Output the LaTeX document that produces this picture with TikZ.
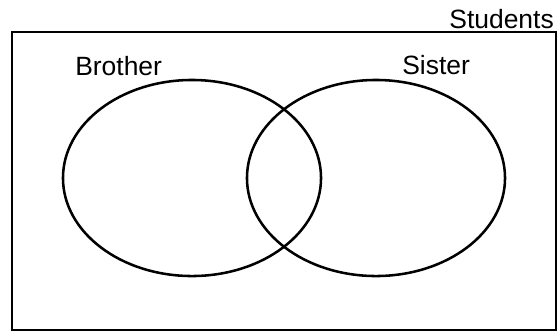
\documentclass[tikz,border=0pt]{standalone}
\usepackage{fontspec}
\setmainfont{Liberation Sans}
\usepackage{tikz}
\usetikzlibrary{positioning,shapes.geometric}

\begin{document}
\begin{tikzpicture}[x=0.025cm, y=-0.025cm, every node/.style={font=\fontsize{18.8}{21}\selectfont},
    setbox/.style={draw, ellipse, line width=1.8pt, inner sep=0pt, minimum width=6.45cm, minimum height=4.9cm}]
      \useasboundingbox (0,0) rectangle (558,332);
      \node[draw, line width=2pt, inner sep=0pt, minimum width=13.6cm, minimum height=7.45cm] (students) at (284,181) {};
      \node[setbox] (brother) at (192,178) {};
      \node[setbox] (sister) at (376,178) {};
      \node[anchor=base west, inner sep=0pt] (brotherlabel) at (75,75) {Brother};
      \node[anchor=base west, inner sep=0pt] (sisterlabel) at (402,74) {Sister};
      \node[anchor=base east, inner sep=0pt] (studentslabel) at (554,28) {Students};
    \end{tikzpicture}
\end{document}
